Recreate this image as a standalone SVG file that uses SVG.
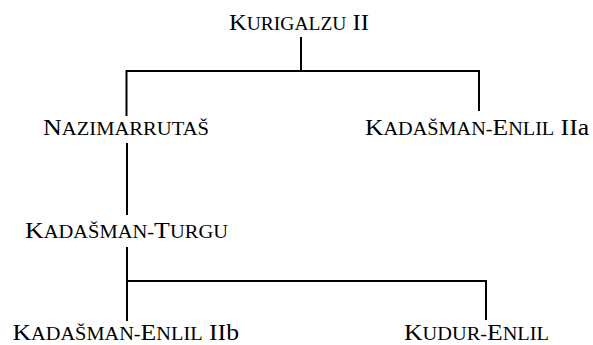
<svg xmlns="http://www.w3.org/2000/svg" width="593" height="345" viewBox="0 0 593 345">
<style>
text{font-family:"Liberation Serif","Times New Roman",Times,serif;fill:#000;font-size:24px}
.s{font-size:19px}
.ln{stroke:#000;stroke-width:2;fill:none}
</style>
<rect width="593" height="345" fill="#fff"/>
<g id="connectors">
<path class="ln" d="M301,37V71M126.5,116V71H479V111"/>
<path class="ln" d="M127,143V215"/>
<path class="ln" d="M127,247V321M127,281H486V320"/>
</g>
<g id="kurigalzu"><text x="229" y="30" textLength="140" lengthAdjust="spacingAndGlyphs">K<tspan class="s">URIGALZU</tspan> II</text></g>
<g id="nazimarrutas"><text x="43" y="135" textLength="166" lengthAdjust="spacingAndGlyphs">N<tspan class="s">AZIMARRUTAŠ</tspan></text></g>
<g id="kadasman-enlil-IIa"><text x="365" y="135" textLength="224" lengthAdjust="spacingAndGlyphs">K<tspan class="s">ADAŠMAN-</tspan>E<tspan class="s">NLIL</tspan> IIa</text></g>
<g id="kadasman-turgu"><text x="25" y="238" textLength="203" lengthAdjust="spacingAndGlyphs">K<tspan class="s">ADAŠMAN-</tspan>T<tspan class="s">URGU</tspan></text></g>
<g id="kadasman-enlil-IIb"><text x="12.5" y="340" textLength="226.5" lengthAdjust="spacingAndGlyphs">K<tspan class="s">ADAŠMAN-</tspan>E<tspan class="s">NLIL</tspan> IIb</text></g>
<g id="kudur-enlil"><text x="404" y="340" textLength="145" lengthAdjust="spacingAndGlyphs">K<tspan class="s">UDUR-</tspan>E<tspan class="s">NLIL</tspan></text></g>
</svg>
